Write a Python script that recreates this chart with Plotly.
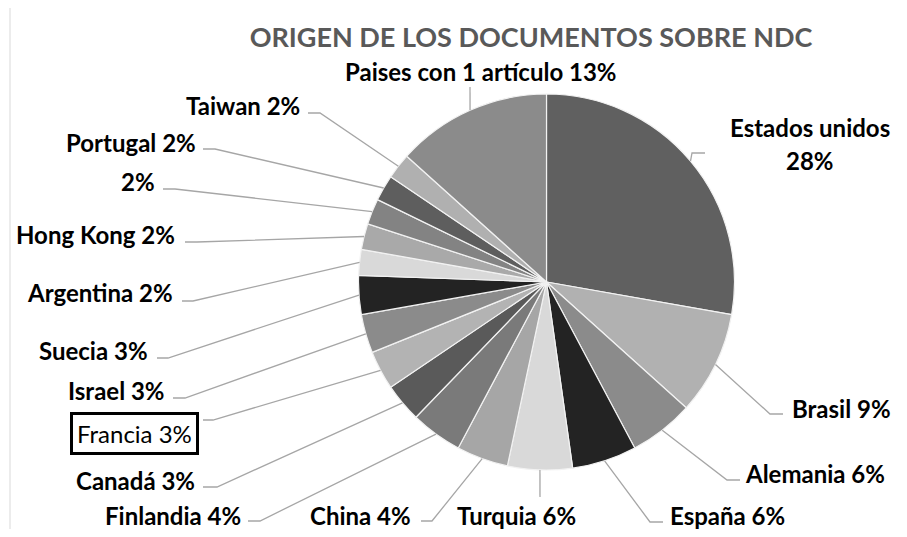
import math
import plotly.graph_objects as go

# --- data -------------------------------------------------------------
paises = [
    "Estados unidos", "Brasil", "Alemania", "España", "Turquia", "China",
    "Finlandia", "Canadá", "Francia", "Israel", "Suecia", "Argentina",
    "Hong Kong", "", "Portugal", "Taiwan", "Paises con 1 artículo",
]
documentos = [25, 8, 5, 5, 5, 4, 4, 3, 3, 3, 3, 2, 2, 2, 2, 2, 12]
colores = [
    "#606060", "#b1b1b1", "#8b8b8b", "#232323", "#d9d9d9", "#a6a6a6",
    "#7a7a7a", "#5a5a5a", "#b3b3b3", "#8b8b8b", "#232323", "#d9d9d9",
    "#a9a9a9", "#838383", "#5e5e5e", "#b0b0b0", "#8b8b8b",
]

# --- layout (pixels of the 907x537 window) -----------------------------
# the page body has an 8px margin, so the figure sits at (8, 8)
OFF = 8
FW, FH = 907 - 2 * OFF, 537 - 2 * OFF
CX, CY, R = 546.5, 282.0, 188.0

# label anchor (x, y, xanchor), leader elbow (ex, ey) and end of the short horizontal (hx)
etiquetas = [
    (810, 143, "center", 692, 153, 705),   # Estados unidos (two lines, drawn separately)
    (790, 408, "left", 770, 414, 783),
    (743, 473, "left", 727, 480, 740),
    (668, 515, "left", 650, 522, 663),
    (517, 515, "center", 540, 497, 540),
    (413, 515, "right", 432, 521, 421),
    (243, 515, "right", 260, 521, 248),
    (197, 480, "right", 217, 487, 203),
    (135, 433, "center", 213, 420, 203),   # Francia (boxed)
    (167, 390, "right", 185, 398, 173),
    (150, 350, "right", 168, 358, 157),
    (175, 292, "right", 193, 301, 182),
    (177, 234, "right", 197, 242, 185),
    (157, 182, "right", 175, 189, 163),
    (198, 142, "right", 215, 149, 203),
    (302, 105, "right", 320, 113, 308),
    (481, 72, "center", 470, 87, 470),
]

FONT = "Lato, 'Open Sans', sans-serif"
LBL = 24


def px(x):
    return (x - OFF) / FW


def py(y):
    return 1 - (y - OFF) / FH


fig = go.Figure(go.Pie(
    labels=[p if p else " " for p in paises],
    values=documentos,
    sort=False,
    direction="clockwise",
    rotation=0,
    marker=dict(colors=colores, line=dict(color="#f2f2f2", width=1.2)),
    textinfo="none",
    hoverinfo="label+percent",
    domain=dict(x=[px(CX - R), px(CX + R)], y=[py(CY + R), py(CY - R)]),
    showlegend=False,
))

total = sum(documentos)
acum = 0
shapes = []
annotations = []
for i, (nombre, v) in enumerate(zip(paises, documentos)):
    ang = 2 * math.pi * (acum + v / 2) / total
    acum += v
    mx = CX + R * math.sin(ang)
    my = CY - R * math.cos(ang)
    tx, ty, anchor, ex, ey, hx = etiquetas[i]
    shapes.append(dict(
        type="path", xref="paper", yref="paper",
        path=f"M {px(mx)} {py(my)} L {px(ex)} {py(ey)} L {px(hx)} {py(ey)}",
        line=dict(color="#a6a6a6", width=1.3),
    ))
    pct = f"{round(100 * v / total)}%"
    if i == 0:
        annotations.append(dict(x=px(tx), y=py(127), text=f"<b>{nombre}</b>"))
        annotations.append(dict(x=px(tx), y=py(160), text=f"<b>{pct}</b>"))
        continue
    texto = f"{nombre} {pct}".strip()
    if nombre == "Francia":
        annotations.append(dict(
            x=px(tx), y=py(ty), text=texto, bordercolor="black",
            borderwidth=3, borderpad=4, bgcolor="white",
        ))
    else:
        annotations.append(dict(x=px(tx), y=py(ty), text=f"<b>{texto}</b>", xanchor=anchor))

for a in annotations:
    a.setdefault("xanchor", "center")
    a.update(xref="paper", yref="paper", yanchor="middle", showarrow=False,
             font=dict(size=LBL, color="black", family=FONT))

# outer chart frame (only left/top edges are inside the picture)
shapes.append(dict(type="rect", xref="paper", yref="paper",
                   x0=px(10), y0=py(560), x1=px(940), y1=py(4),
                   line=dict(color="#d9d9d9", width=1)))

fig.update_layout(
    title=dict(
        text="<b>ORIGEN DE LOS DOCUMENTOS SOBRE NDC</b>",
        x=px(531), y=py(38), xanchor="center", yanchor="middle",
        font=dict(size=27, color="#595959", family=FONT),
    ),
    shapes=shapes,
    annotations=annotations,
    width=FW, height=FH,
    margin=dict(l=0, r=0, t=0, b=0),
    paper_bgcolor="white",
    plot_bgcolor="white",
)

fig.write_html("out.html")
